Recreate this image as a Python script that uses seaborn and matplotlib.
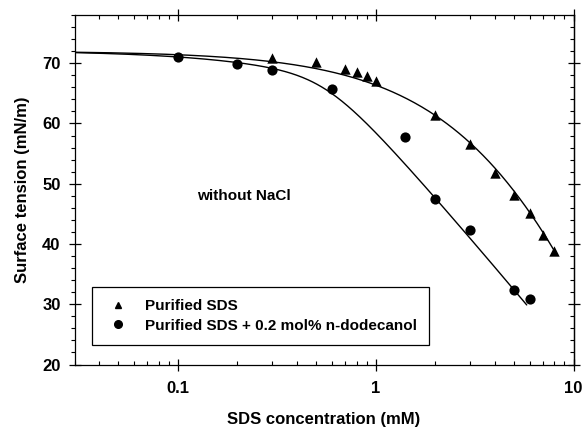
import numpy as np
import pandas as pd
import matplotlib
matplotlib.use("Agg")
import matplotlib.pyplot as plt
import seaborn as sns
from matplotlib.lines import Line2D
from matplotlib.ticker import FixedLocator, FixedFormatter, MultipleLocator, LogLocator, NullFormatter

# Surface tension of purified SDS solutions
sds_conc = [0.3, 0.5, 0.7, 0.8, 0.9, 1.0, 2.0, 3.0, 4.0, 5.0, 6.0, 7.0, 8.0]          # mM
sds_tension = [70.8, 70.2, 69.0, 68.5, 67.8, 67.0, 61.4, 56.6, 51.8, 48.2, 45.1, 41.5, 38.9]  # mN/m

# Surface tension of purified SDS + 0.2 mol% n-dodecanol
mix_conc = [0.1, 0.2, 0.3, 0.6, 1.4, 2.0, 3.0, 5.0, 6.0]
mix_tension = [71.1, 69.8, 68.8, 65.7, 57.7, 47.4, 42.4, 32.4, 30.9]

series_labels = ["Purified SDS", "Purified SDS + 0.2 mol% n-dodecanol"]

# Fitted isotherm parameters.  Each curve is
#   gamma = g0 - g1*ln(1 + c/a1) - (g2/n)*ln(1 + (c/a2)**n)
# (the first term is the dodecanol contribution, zero for pure SDS)
sds_fit = dict(g0=72.0, g1=0.0, a1=1.0, g2=47.8, a2=8.0, n=1.0, c_end=8.1)
mix_fit = dict(g0=72.1, g1=5.3, a1=0.45, g2=12.0, a2=0.55, n=4.0, c_end=5.8)

x_ticks = [0.1, 1, 10]
x_tick_labels = ["0.1", "1", "10"]
y_ticks = [20, 30, 40, 50, 60, 70]


def isotherm(c, g0, g1, a1, g2, a2, n):
    c = np.asarray(c, dtype=float)
    return g0 - g1 * np.log1p(c / a1) - (g2 / n) * np.log1p((c / a2) ** n)


def fit_curve(p, c_start=0.03, npts=400):
    c = np.geomspace(c_start, p["c_end"], npts)
    g = isotherm(c, p["g0"], p["g1"], p["a1"], p["g2"], p["a2"], p["n"])
    return pd.DataFrame({"conc": c, "tension": g})


sns.set_style("ticks")
plt.rcParams["font.family"] = ["Liberation Sans", "DejaVu Sans"]
plt.rcParams["font.weight"] = "bold"
plt.rcParams["axes.labelweight"] = "bold"
plt.rcParams["text.color"] = "black"
plt.rcParams["axes.labelcolor"] = "black"
plt.rcParams["xtick.color"] = "black"
plt.rcParams["ytick.color"] = "black"
plt.rcParams["axes.edgecolor"] = "black"

W, H = 584, 428
fig = plt.figure(figsize=(W / 100, H / 100), dpi=100)
left, right, top, bottom = 74.5, 573.5, 15.0, 364.5
ax = fig.add_axes([left / W, 1 - bottom / H, (right - left) / W, (bottom - top) / H])

# fitted curves
for p in (sds_fit, mix_fit):
    df = fit_curve(p)
    sns.lineplot(data=df, x="conc", y="tension", ax=ax, color="black",
                 linewidth=1.0, sort=False, estimator=None, zorder=2)

# measured points
sns.scatterplot(x=sds_conc, y=sds_tension, ax=ax, marker="^", s=56,
                color="black", edgecolor="black", linewidth=0, zorder=3)
sns.scatterplot(x=mix_conc, y=mix_tension, ax=ax, marker="o", s=54,
                color="black", edgecolor="black", linewidth=0, zorder=3)

ax.set_xscale("log")
ax.set_xlim(0.03, 10)
ax.set_ylim(20, 78)

ax.xaxis.set_major_locator(FixedLocator(x_ticks))
ax.xaxis.set_major_formatter(FixedFormatter(x_tick_labels))
ax.xaxis.set_minor_locator(LogLocator(base=10, subs=np.arange(2, 10)))
ax.xaxis.set_minor_formatter(NullFormatter())
ax.yaxis.set_major_locator(FixedLocator(y_ticks))
ax.yaxis.set_minor_locator(MultipleLocator(2))

for s in ax.spines.values():
    s.set_visible(True)
    s.set_color("black")
    s.set_linewidth(0.9)

ax.tick_params(axis="x", which="major", direction="inout", length=8, width=0.9,
               top=True, bottom=True, labelsize=12, pad=8, colors="black")
ax.tick_params(axis="x", which="minor", direction="in", length=3, width=0.8,
               top=True, bottom=True, colors="black")
ax.tick_params(axis="y", which="major", direction="inout", length=8, width=0.9,
               left=True, right=False, labelsize=12, pad=6, colors="black")
ax.tick_params(axis="y", which="minor", direction="out", length=3, width=0.8,
               left=True, right=False, colors="black")

# right-hand ticks point inward
sec = ax.secondary_yaxis("right")
sec.yaxis.set_major_locator(FixedLocator(y_ticks))
sec.yaxis.set_minor_locator(MultipleLocator(2))
sec.tick_params(which="major", direction="inout", length=8, width=0.9,
                labelright=False, colors="black")
sec.tick_params(which="minor", direction="in", length=3, width=0.8, colors="black")
sec.spines["right"].set_linewidth(0.9)
sec.spines["right"].set_color("black")

for lab in ax.get_xticklabels() + ax.get_yticklabels():
    lab.set_fontweight("bold")
    lab.set_color("black")

ax.set_xlabel("SDS concentration (mM)", fontsize=12, fontweight="bold", color="black")
ax.set_ylabel("Surface tension (mN/m)", fontsize=12, fontweight="bold", color="black")
ax.xaxis.set_label_coords(0.5, -0.135)
ax.yaxis.set_label_coords(-0.09, 0.5)

ax.text(0.2168, 48.0, "without NaCl", ha="center", va="center",
        fontsize=11, fontweight="bold", color="black")

handles = [
    Line2D([], [], marker="^", color="black", linestyle="none", markersize=5),
    Line2D([], [], marker="o", color="black", linestyle="none", markersize=5.5),
]
leg = ax.legend(handles, series_labels, loc="upper left",
                bbox_to_anchor=(91.7 / W, 1 - 287 / H), bbox_transform=fig.transFigure,
                borderaxespad=0, frameon=True, fancybox=False, framealpha=1,
                edgecolor="black", borderpad=0.8, labelspacing=0.35,
                handlelength=1.88, handletextpad=0.8,
                prop={"size": 11, "weight": "bold"})
leg.get_frame().set_linewidth(0.9)
for t in leg.get_texts():
    t.set_color("black")

fig.savefig("out.png", dpi=100)
